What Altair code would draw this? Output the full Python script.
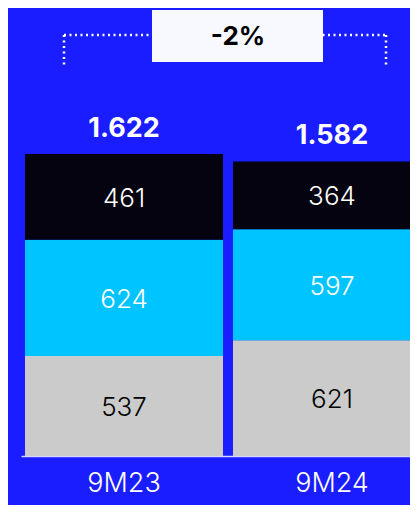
import altair as alt
import pandas as pd

periods = ["9M23", "9M24"]
segments = ["bottom", "middle", "top"]
bottom_vals = [537, 621]
middle_vals = [624, 597]
top_vals = [461, 364]

BG = "#1a1dff"
seg_colors = ["#cbcbcb", "#00c4ff", "#05030f"]
label_colors = ["#000000", "#ffffff", "#ffffff"]
FONT = "Inter"

rows = []
for i, p in enumerate(periods):
    for k, (s, vals) in enumerate(zip(segments, [bottom_vals, middle_vals, top_vals])):
        rows.append({"period": p, "segment": s, "seg_order": k, "value": vals[i],
                     "label_color": label_colors[k]})
df = pd.DataFrame(rows)

totals = [b + m + t for b, m, t in zip(bottom_vals, middle_vals, top_vals)]
tot_df = pd.DataFrame({"period": periods, "total": totals,
                       "label": [f"{t/1000:.3f}" for t in totals]})
change = round((totals[1] / totals[0] - 1) * 100)
change_label = f"{change:d}%"

xscale = alt.Scale(domain=periods, range=[0, 414], paddingInner=0.048, paddingOuter=0.0192)
yscale = alt.Scale(domain=[0, 2406], nice=False, zero=True)

xenc = alt.X("period:N", scale=xscale, sort=periods,
             axis=alt.Axis(title=None, labelColor="white", labelFontSize=27,
                           labelFont=FONT, labelFontWeight=300, tickSize=0, labelPadding=14,
                           domainColor="#d4d4ff", domainWidth=1.5, labelAngle=0))

bars = alt.Chart(df).mark_bar(clip=True).encode(
    x=xenc,
    y=alt.Y("value:Q", stack="zero", scale=yscale, axis=None),
    color=alt.Color("segment:N", scale=alt.Scale(domain=segments, range=seg_colors), legend=None),
    order=alt.Order("seg_order:Q"),
)

seg_labels = alt.Chart(df).transform_stack(
    stack="value", groupby=["period"], as_=["v0", "v1"], sort=[alt.SortField("seg_order")]
).transform_calculate(
    mid="(datum.v0 + datum.v1) / 2"
).mark_text(font=FONT, fontSize=26, fontWeight=300, baseline="middle", dy=2).encode(
    x=alt.X("period:N", scale=xscale, sort=periods),
    y=alt.Y("mid:Q", scale=yscale),
    text="value:Q",
    color=alt.Color("label_color:N", scale=None),
)

total_labels = alt.Chart(tot_df).mark_text(
    font=FONT, fontSize=27, fontWeight="bold", color="white", baseline="alphabetic", dy=-17
).encode(
    x=alt.X("period:N", scale=xscale, sort=periods),
    y=alt.Y("total:Q", scale=yscale),
    text="label:N",
)

one = pd.DataFrame({"a": [0]})
dash = dict(color="white", strokeWidth=2.5, strokeDash=[2, 3.5])
br_h = alt.Chart(one).mark_rule(**dash).encode(
    x=alt.value(43), x2=alt.value(366), y=alt.value(27))
br_l = alt.Chart(one).mark_rule(**dash).encode(
    x=alt.value(43), y=alt.value(27), y2=alt.value(57))
br_r = alt.Chart(one).mark_rule(**dash).encode(
    x=alt.value(365), y=alt.value(27), y2=alt.value(57))
box = alt.Chart(one).mark_rect(color="#f8f8ff").encode(
    x=alt.value(131), x2=alt.value(302), y=alt.value(2), y2=alt.value(54))
box_text = alt.Chart(pd.DataFrame({"t": [change_label]})).mark_text(
    font=FONT, fontSize=26, fontWeight="bold", color="black", baseline="middle"
).encode(x=alt.value(217), y=alt.value(29), text="t:N")

chart = alt.layer(bars, seg_labels, total_labels, br_h, br_l, br_r, box, box_text).properties(
    width=389, height=448,
    background=BG,
    padding={"left": 13, "top": 0, "right": 0, "bottom": 49},
    autosize=alt.AutoSizeParams(type="none"),
).configure_view(stroke=None)

chart.save("out.html", embed_options={"renderer": "svg", "actions": False})
